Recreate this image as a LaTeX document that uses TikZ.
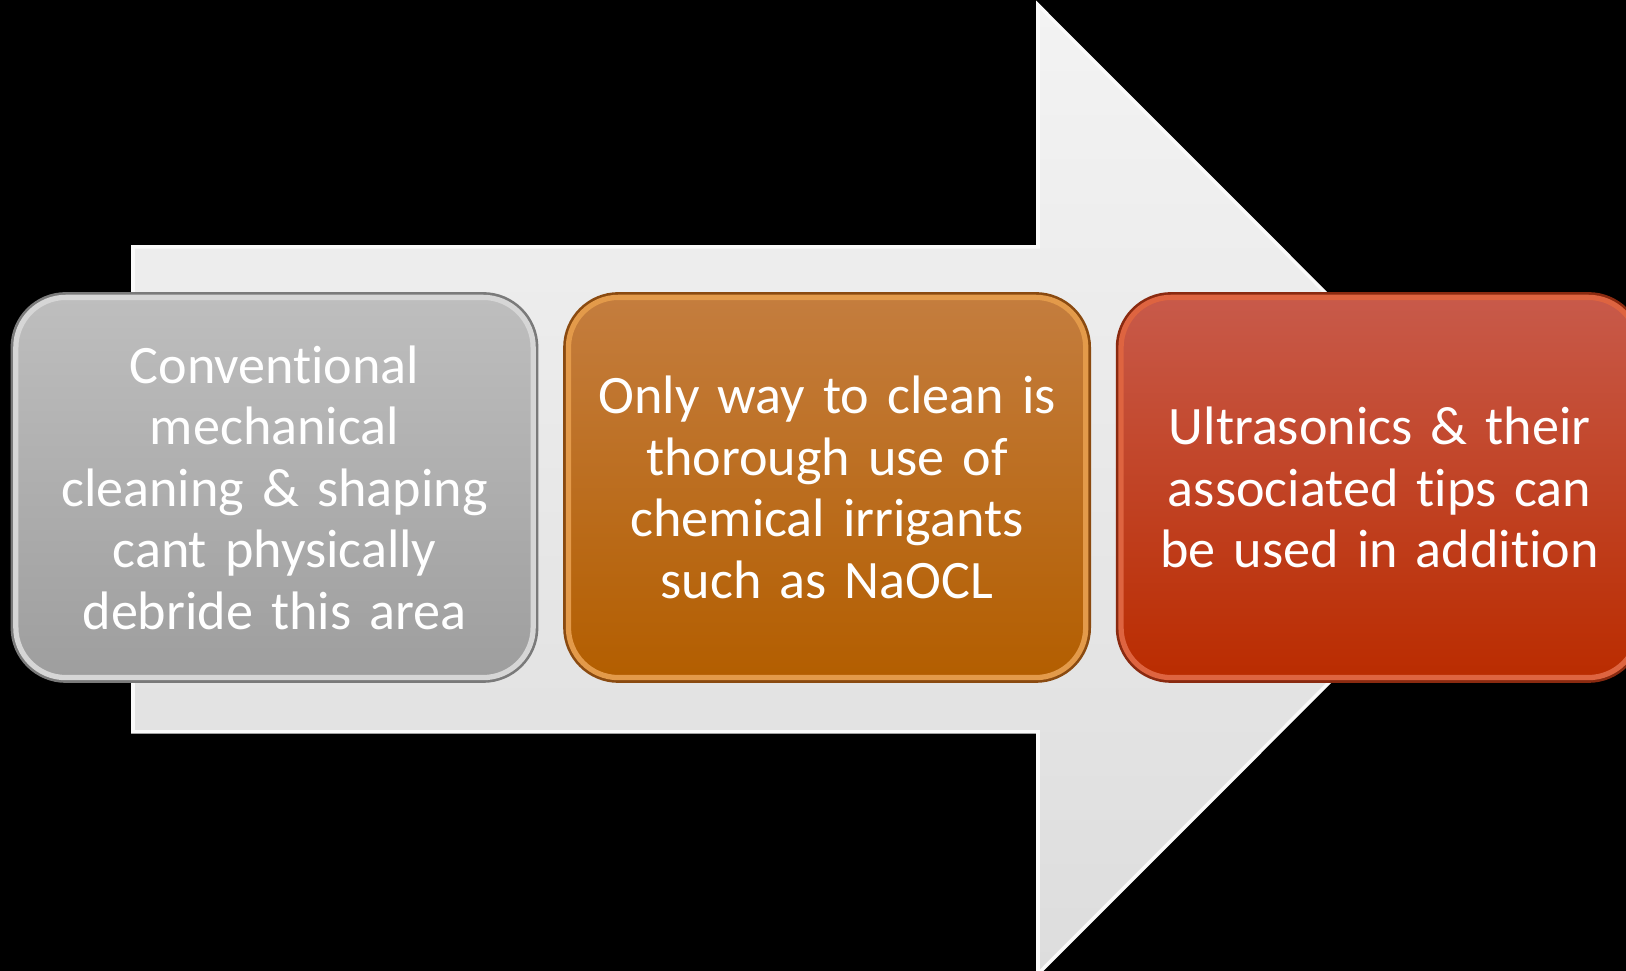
\documentclass[tikz,border=0pt]{standalone}
\usepackage{fontspec}
\setmainfont{Carlito}[Ligatures=NoCommon]
\usetikzlibrary{positioning}

\definecolor{grayTop}{HTML}{BEBEBE}
\definecolor{grayBot}{HTML}{9E9E9E}
\definecolor{grayRim}{HTML}{D6D6D6}
\definecolor{grayEdge}{HTML}{7A7A7A}
\definecolor{orangeTop}{HTML}{C47D3E}
\definecolor{orangeBot}{HTML}{B35E00}
\definecolor{orangeRim}{HTML}{E39A4A}
\definecolor{orangeEdge}{HTML}{8A4A10}
\definecolor{redTop}{HTML}{C85A4A}
\definecolor{redBot}{HTML}{BA2C00}
\definecolor{redRim}{HTML}{DE6440}
\definecolor{redEdge}{HTML}{8A2A10}
\definecolor{arrowTop}{HTML}{F3F3F3}
\definecolor{arrowBot}{HTML}{DDDDDD}
\definecolor{arrowRim}{HTML}{FAFAFA}

\begin{document}
\begin{tikzpicture}[x=0.01cm, y=-0.01cm,
    stepcard/.style={rounded corners=0.5cm, minimum height=3.8cm,
      text width=4.92cm, inner sep=0.125cm, align=center, text=white,
      font=\fontsize{15.4}{17.5}\selectfont, line width=1.5pt},
    graycard/.style={stepcard, top color=grayTop, bottom color=grayBot,
      draw=grayRim, preaction={draw=grayEdge, line width=3pt}},
    orangecard/.style={stepcard, top color=orangeTop, bottom color=orangeBot,
      draw=orangeRim, preaction={draw=orangeEdge, line width=3pt}},
    redcard/.style={stepcard, top color=redTop, bottom color=redBot,
      draw=redRim, preaction={draw=redEdge, line width=3pt}}]
    % Background
    \fill[black] (0,0) rectangle (1626,971);
    \clip (0,0) rectangle (1626,971);

    % Big arrow
    \draw[arrowRim, line width=1pt, top color=arrowTop, bottom color=arrowBot]
      (133,247) -- (1038,247) -- (1038,5) -- (1522,489.5)
      -- (1038,974) -- (1038,732) -- (133,732) -- cycle;

    % Steps
    \node[graycard] (mech) at (274.5,487.5)
      {Conventional\\ mechanical\\ cleaning \& shaping\\ cant physically\\ debride this area};
    \node[orangecard, right=0.3cm of mech] (irrig)
      {Only way to clean is\\ thorough use of\\ chemical irrigants\\ such as NaOCL};
    \node[redcard, right=0.3cm of irrig] (ultra)
      {Ultrasonics \& their\\ associated tips can\\ be used in addition};
\end{tikzpicture}
\end{document}
